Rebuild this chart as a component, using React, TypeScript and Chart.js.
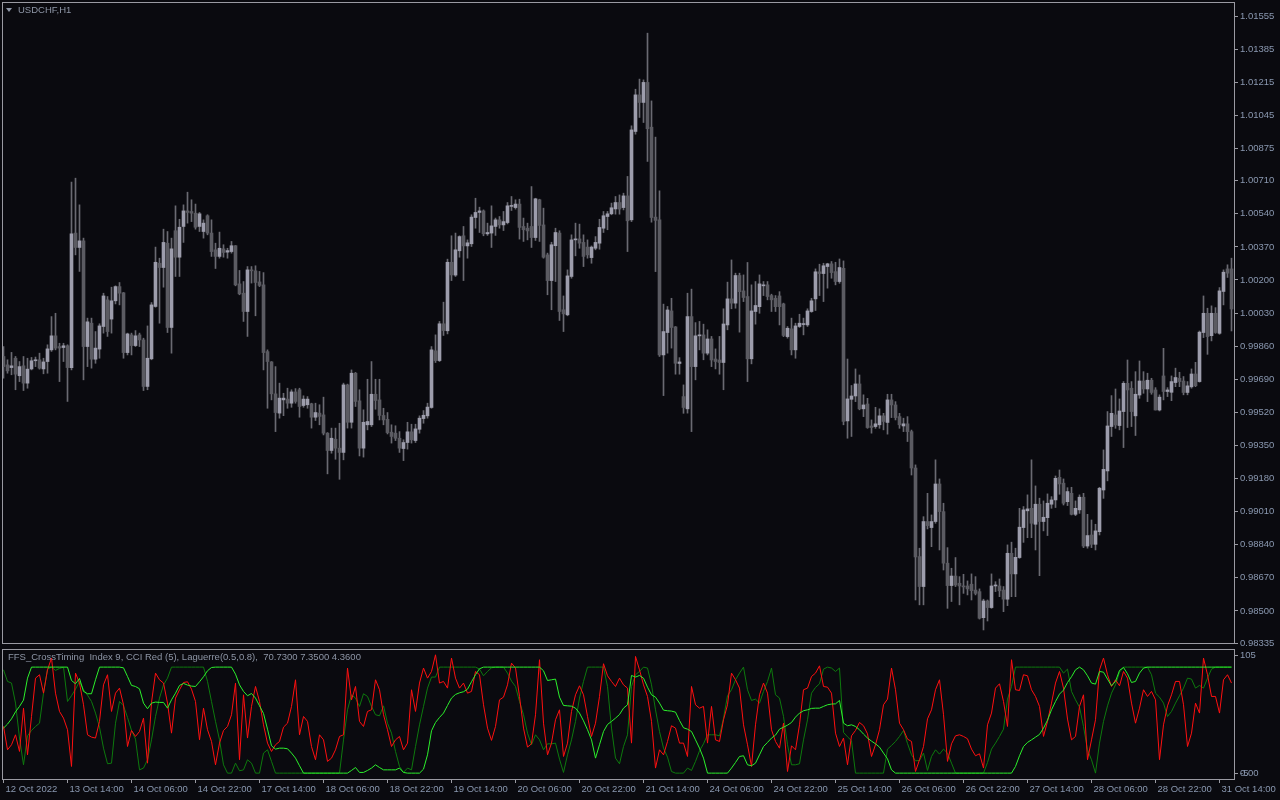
import React, { useEffect, useRef } from 'react';
import { Chart, registerables } from 'chart.js';

Chart.register(...registerables);

const symbolTitle = 'USDCHF,H1';
const indicatorTitle = 'FFS_CrossTiming  Index 9, CCI Red (5), Laguerre(0.5,0.8),  70.7300 7.3500 4.3600';

const timeLabels = ['12 Oct 2022', '13 Oct 14:00', '14 Oct 06:00', '14 Oct 22:00', '17 Oct 14:00', '18 Oct 06:00', '18 Oct 22:00', '19 Oct 14:00', '20 Oct 06:00', '20 Oct 22:00', '21 Oct 14:00', '24 Oct 06:00', '24 Oct 22:00', '25 Oct 14:00', '26 Oct 06:00', '26 Oct 22:00', '27 Oct 14:00', '28 Oct 06:00', '28 Oct 22:00', '31 Oct 14:00'];
const timeLabelBars = [0, 16, 32, 48, 64, 80, 96, 112, 128, 144, 160, 176, 192, 208, 224, 240, 256, 272, 288, 304];

const priceTickLabels = ['1.01555', '1.01385', '1.01215', '1.01045', '1.00875', '1.00710', '1.00540', '1.00370', '1.00200', '1.00030', '0.99860', '0.99690', '0.99520', '0.99350', '0.99180', '0.99010', '0.98840', '0.98670', '0.98500', '0.98335'];
const priceMin = 0.98335;
const priceMax = 1.01623;

const indicatorMin = -5;
const indicatorMax = 105;
const indicatorTickValues = [0, 0, 100.3];
const indicatorTickLabels = ['0.00', '-5', '105'];

const opens = [
  0.99807, 0.99764, 0.99750, 0.99798, 0.99708, 0.99759, 0.99670, 0.99743, 0.99785, 0.99790,
  0.99743, 0.99781, 0.99841, 0.99913, 0.99858, 0.99853, 0.99862, 0.99750, 1.00441, 1.00367,
  1.00401, 0.99858, 0.99978, 0.99793, 0.99845, 0.99961, 1.00098, 0.99999, 1.00093, 1.00166,
  1.00134, 0.99827, 0.99918, 0.99863, 0.99918, 0.99892, 0.99653, 0.99795, 1.00064, 1.00286,
  1.00264, 1.00389, 0.99956, 1.00453, 1.00317, 1.00475, 1.00555, 1.00552, 1.00543, 1.00475,
  1.00449, 1.00530, 1.00441, 1.00355, 1.00321, 1.00360, 1.00343, 1.00346, 1.00376, 1.00180,
  1.00132, 1.00038, 1.00252, 1.00247, 1.00190, 1.00175, 0.99832, 0.99779, 0.99615, 0.99516,
  0.99584, 0.99588, 0.99567, 0.99625, 0.99636, 0.99555, 0.99559, 0.99564, 0.99495, 0.99516,
  0.99507, 0.99413, 0.99324, 0.99382, 0.99336, 0.99314, 0.99661, 0.99469, 0.99721, 0.99579,
  0.99336, 0.99456, 0.99456, 0.99613, 0.99584, 0.99504, 0.99484, 0.99418, 0.99413, 0.99387,
  0.99334, 0.99365, 0.99420, 0.99375, 0.99433, 0.99488, 0.99502, 0.99545, 0.99836, 0.99786,
  0.99975, 0.99939, 1.00291, 1.00225, 1.00350, 1.00427, 1.00375, 1.00386, 1.00521, 1.00547,
  1.00555, 1.00437, 1.00441, 1.00475, 1.00509, 1.00483, 1.00495, 1.00578, 1.00572, 1.00590,
  1.00475, 1.00466, 1.00475, 1.00418, 1.00612, 1.00483, 1.00329, 1.00197, 1.00376, 1.00441,
  1.00047, 1.00021, 1.00218, 1.00406, 1.00411, 1.00393, 1.00369, 1.00315, 1.00363, 1.00389,
  1.00466, 1.00526, 1.00540, 1.00565, 1.00598, 1.00572, 1.00632, 1.00509, 1.00963, 1.01151,
  1.01112, 1.01215, 1.00985, 1.00523, 1.00509, 0.99815, 0.99930, 1.00041, 0.99959, 0.99771,
  0.99601, 0.99538, 1.00012, 0.99755, 0.99913, 0.99918, 0.99824, 0.99897, 0.99794, 0.99789,
  0.99776, 0.99969, 1.00103, 1.00081, 1.00223, 1.00144, 1.00115, 0.99795, 1.00038, 1.00063,
  1.00170, 1.00175, 1.00120, 1.00106, 1.00118, 1.00077, 0.99909, 0.99949, 0.99841, 0.99961,
  0.99971, 0.99969, 1.00038, 1.00103, 1.00242, 1.00233, 1.00269, 1.00283, 1.00243, 1.00192,
  1.00260, 0.99476, 0.99587, 0.99604, 0.99666, 0.99538, 0.99563, 0.99450, 0.99447, 0.99456,
  0.99502, 0.99468, 0.99584, 0.99558, 0.99498, 0.99450, 0.99461, 0.99421, 0.99234, 0.98779,
  0.98625, 0.98959, 0.98928, 0.98959, 0.99152, 0.99010, 0.98745, 0.98630, 0.98679, 0.98642,
  0.98628, 0.98628, 0.98637, 0.98607, 0.98599, 0.98465, 0.98551, 0.98517, 0.98628, 0.98628,
  0.98607, 0.98560, 0.98796, 0.98690, 0.98774, 0.98928, 0.99014, 0.99027, 0.98945, 0.99048,
  0.98959, 0.98979, 0.99048, 0.99070, 0.99186, 0.99156, 0.99061, 0.99104, 0.98996, 0.99019,
  0.99084, 0.98833, 0.98890, 0.98842, 0.98907, 0.99121, 0.99219, 0.99447, 0.99507, 0.99452,
  0.99524, 0.99669, 0.99644, 0.99502, 0.99609, 0.99681, 0.99640, 0.99685, 0.99635, 0.99532,
  0.99707, 0.99627, 0.99623, 0.99673, 0.99695, 0.99681, 0.99622, 0.99651, 0.99717, 0.99678,
  0.99930, 1.00029, 0.99914, 1.00029, 0.99926, 1.00141, 1.00257, 1.00257,
];

const highs = [
  0.99858, 0.99790, 0.99828, 0.99807, 0.99781, 0.99807, 0.99798, 0.99802, 0.99804, 0.99824,
  0.99798, 0.99867, 1.00012, 1.00029, 0.99875, 0.99875, 0.99867, 1.00703, 1.00723, 1.00586,
  1.00415, 1.00004, 1.00004, 0.99935, 0.99975, 1.00132, 1.00115, 1.00163, 1.00170, 1.00187,
  1.00136, 0.99927, 0.99927, 0.99940, 0.99927, 0.99901, 0.99964, 1.00084, 1.00369, 1.00312,
  1.00461, 1.00449, 1.00415, 1.00581, 1.00512, 1.00586, 1.00651, 1.00612, 1.00590, 1.00547,
  1.00509, 1.00535, 1.00509, 1.00389, 1.00446, 1.00381, 1.00363, 1.00398, 1.00377, 1.00249,
  1.00192, 1.00269, 1.00269, 1.00273, 1.00244, 1.00238, 0.99841, 0.99781, 0.99755, 0.99670,
  0.99618, 0.99644, 0.99636, 0.99642, 0.99644, 0.99605, 0.99601, 0.99567, 0.99567, 0.99559,
  0.99598, 0.99416, 0.99439, 0.99439, 0.99464, 0.99670, 0.99665, 0.99738, 0.99725, 0.99636,
  0.99533, 0.99690, 0.99781, 0.99690, 0.99690, 0.99541, 0.99519, 0.99456, 0.99451, 0.99421,
  0.99379, 0.99469, 0.99459, 0.99459, 0.99502, 0.99529, 0.99567, 0.99858, 0.99918, 0.99987,
  1.00086, 1.00307, 1.00427, 1.00441, 1.00427, 1.00475, 1.00406, 1.00535, 1.00620, 1.00574,
  1.00560, 1.00492, 1.00581, 1.00518, 1.00526, 1.00552, 1.00598, 1.00629, 1.00612, 1.00615,
  1.00518, 1.00492, 1.00680, 1.00620, 1.00615, 1.00569, 1.00338, 1.00394, 1.00466, 1.00453,
  1.00118, 1.00252, 1.00432, 1.00492, 1.00487, 1.00432, 1.00406, 1.00375, 1.00423, 1.00512,
  1.00552, 1.00552, 1.00595, 1.00629, 1.00637, 1.00646, 1.00732, 1.00992, 1.01180, 1.01232,
  1.01228, 1.01468, 1.01120, 1.00934, 1.00658, 1.00076, 1.00064, 1.00106, 0.99961, 0.99801,
  0.99661, 1.00132, 1.00153, 0.99981, 0.99987, 0.99973, 0.99944, 0.99910, 0.99846, 0.99910,
  1.00052, 1.00189, 1.00303, 1.00235, 1.00235, 1.00226, 1.00290, 1.00175, 1.00192, 1.00226,
  1.00192, 1.00192, 1.00127, 1.00120, 1.00140, 1.00081, 0.99961, 1.00004, 0.99978, 1.00024,
  1.00004, 1.00052, 1.00106, 1.00257, 1.00281, 1.00286, 1.00286, 1.00295, 1.00291, 1.00308,
  1.00298, 0.99794, 0.99658, 0.99743, 0.99712, 0.99610, 0.99592, 0.99481, 0.99546, 0.99538,
  0.99515, 0.99613, 0.99613, 0.99575, 0.99515, 0.99490, 0.99498, 0.99429, 0.99250, 0.98822,
  0.98984, 0.99104, 0.98993, 0.99276, 0.99178, 0.99053, 0.98825, 0.98719, 0.98774, 0.98676,
  0.98688, 0.98654, 0.98690, 0.98676, 0.98613, 0.98560, 0.98556, 0.98690, 0.98650, 0.98664,
  0.98625, 0.98839, 0.98853, 0.98822, 0.99027, 0.99036, 0.99096, 0.99276, 0.99142, 0.99079,
  0.99065, 0.99101, 0.99087, 0.99193, 0.99224, 0.99178, 0.99133, 0.99135, 0.99065, 0.99096,
  0.99104, 0.98996, 0.98967, 0.98945, 0.99135, 0.99327, 0.99524, 0.99606, 0.99640, 0.99589,
  0.99678, 0.99789, 0.99678, 0.99729, 0.99784, 0.99729, 0.99721, 0.99695, 0.99647, 0.99610,
  0.99849, 0.99647, 0.99707, 0.99747, 0.99726, 0.99704, 0.99678, 0.99743, 0.99777, 0.99938,
  1.00118, 1.00055, 1.00067, 1.00058, 1.00161, 1.00252, 1.00278, 1.00312,
];

const lows = [
  0.99695, 0.99721, 0.99713, 0.99636, 0.99678, 0.99632, 0.99644, 0.99738, 0.99755, 0.99742,
  0.99718, 0.99721, 0.99833, 0.99841, 0.99678, 0.99781, 0.99576, 0.99738, 1.00329, 1.00244,
  0.99687, 0.99755, 0.99747, 0.99772, 0.99798, 0.99927, 0.99910, 0.99927, 1.00077, 1.00072,
  0.99798, 0.99815, 0.99815, 0.99858, 0.99858, 0.99632, 0.99636, 0.99790, 1.00060, 0.99978,
  1.00163, 0.99930, 0.99824, 1.00218, 1.00218, 1.00393, 1.00492, 1.00500, 1.00461, 1.00449,
  1.00415, 1.00432, 1.00321, 1.00259, 1.00312, 1.00317, 1.00312, 1.00338, 1.00170, 1.00124,
  0.99987, 0.99910, 1.00184, 1.00016, 1.00166, 0.99738, 0.99541, 0.99584, 0.99421, 0.99490,
  0.99503, 0.99541, 0.99546, 0.99567, 0.99495, 0.99546, 0.99541, 0.99439, 0.99478, 0.99456,
  0.99404, 0.99204, 0.99310, 0.99279, 0.99176, 0.99276, 0.99439, 0.99439, 0.99550, 0.99296,
  0.99290, 0.99430, 0.99447, 0.99536, 0.99481, 0.99456, 0.99409, 0.99362, 0.99375, 0.99314,
  0.99272, 0.99331, 0.99362, 0.99365, 0.99413, 0.99464, 0.99490, 0.99541, 0.99776, 0.99781,
  0.99915, 0.99923, 1.00197, 1.00218, 1.00317, 1.00197, 1.00312, 1.00372, 1.00466, 1.00444,
  1.00427, 1.00429, 1.00367, 1.00429, 1.00466, 1.00454, 1.00488, 1.00557, 1.00564, 1.00410,
  1.00398, 1.00406, 1.00367, 1.00403, 1.00398, 1.00312, 1.00124, 1.00047, 1.00192, 0.99992,
  0.99935, 1.00016, 1.00209, 1.00324, 1.00363, 1.00269, 1.00312, 1.00286, 1.00355, 1.00358,
  1.00444, 1.00458, 1.00535, 1.00538, 1.00538, 1.00560, 1.00346, 1.00500, 1.00949, 1.01035,
  1.01009, 1.00809, 1.00497, 1.00243, 0.99807, 0.99606, 0.99824, 0.99850, 0.99716, 0.99716,
  0.99515, 0.99516, 0.99421, 0.99687, 0.99841, 0.99790, 0.99815, 0.99755, 0.99743, 0.99716,
  0.99636, 0.99944, 1.00052, 1.00055, 0.99932, 1.00089, 0.99678, 0.99769, 0.99973, 1.00029,
  1.00120, 1.00098, 1.00038, 1.00038, 0.99969, 0.99909, 0.99901, 0.99815, 0.99798, 0.99956,
  0.99918, 0.99961, 1.00034, 1.00043, 1.00120, 1.00089, 1.00158, 1.00209, 1.00175, 1.00183,
  0.99456, 0.99387, 0.99396, 0.99575, 0.99533, 0.99498, 0.99438, 0.99413, 0.99438, 0.99438,
  0.99430, 0.99408, 0.99493, 0.99481, 0.99438, 0.99421, 0.99370, 0.99198, 0.98556, 0.98531,
  0.98531, 0.98921, 0.98830, 0.98950, 0.98813, 0.98710, 0.98513, 0.98548, 0.98625, 0.98531,
  0.98590, 0.98582, 0.98556, 0.98582, 0.98458, 0.98402, 0.98448, 0.98513, 0.98599, 0.98573,
  0.98496, 0.98527, 0.98573, 0.98573, 0.98770, 0.98852, 0.98876, 0.98876, 0.98813, 0.98681,
  0.98911, 0.98887, 0.99027, 0.99031, 0.99099, 0.99044, 0.99041, 0.98993, 0.98989, 0.99001,
  0.98825, 0.98822, 0.98825, 0.98813, 0.98890, 0.99078, 0.99168, 0.99396, 0.99438, 0.99430,
  0.99339, 0.99442, 0.99447, 0.99401, 0.99592, 0.99618, 0.99575, 0.99613, 0.99532, 0.99527,
  0.99584, 0.99601, 0.99580, 0.99652, 0.99652, 0.99610, 0.99610, 0.99644, 0.99652, 0.99675,
  0.99904, 0.99818, 0.99887, 0.99926, 0.99921, 1.00072, 1.00213, 0.99938,
];

const closes = [
  0.99755, 0.99733, 0.99759, 0.99716, 0.99755, 0.99670, 0.99742, 0.99785, 0.99790, 0.99747,
  0.99779, 0.99846, 0.99913, 0.99850, 0.99850, 0.99862, 0.99750, 1.00437, 1.00367, 1.00401,
  0.99858, 0.99985, 0.99793, 0.99850, 0.99964, 1.00118, 0.99935, 1.00093, 1.00166, 1.00132,
  0.99827, 0.99923, 0.99863, 0.99913, 0.99892, 0.99653, 0.99798, 1.00072, 1.00291, 1.00264,
  1.00393, 0.99956, 1.00360, 1.00317, 1.00471, 1.00555, 1.00547, 1.00543, 1.00471, 1.00540,
  1.00492, 1.00441, 1.00346, 1.00321, 1.00363, 1.00341, 1.00351, 1.00376, 1.00175, 1.00129,
  1.00038, 1.00252, 1.00247, 1.00187, 1.00172, 0.99827, 0.99781, 0.99615, 0.99519, 0.99593,
  0.99593, 0.99567, 0.99625, 0.99576, 0.99550, 0.99588, 0.99588, 0.99495, 0.99519, 0.99499,
  0.99413, 0.99324, 0.99387, 0.99336, 0.99314, 0.99661, 0.99469, 0.99721, 0.99576, 0.99336,
  0.99469, 0.99473, 0.99613, 0.99581, 0.99504, 0.99481, 0.99416, 0.99396, 0.99387, 0.99336,
  0.99365, 0.99420, 0.99379, 0.99435, 0.99490, 0.99505, 0.99547, 0.99841, 0.99786, 0.99975,
  0.99940, 1.00291, 1.00226, 1.00355, 1.00423, 1.00375, 1.00391, 1.00523, 1.00547, 1.00555,
  1.00437, 1.00444, 1.00478, 1.00509, 1.00483, 1.00500, 1.00581, 1.00581, 1.00590, 1.00470,
  1.00458, 1.00452, 1.00418, 1.00617, 1.00480, 1.00317, 1.00197, 1.00381, 1.00444, 1.00038,
  1.00026, 1.00221, 1.00406, 1.00411, 1.00389, 1.00321, 1.00329, 1.00369, 1.00393, 1.00470,
  1.00530, 1.00540, 1.00571, 1.00598, 1.00564, 1.00632, 1.00504, 1.00971, 1.01151, 1.01112,
  1.01215, 1.00977, 1.00521, 1.00506, 0.99815, 0.99935, 1.00046, 0.99956, 0.99772, 0.99779,
  0.99545, 1.00012, 0.99755, 0.99913, 0.99918, 0.99824, 0.99897, 0.99789, 0.99781, 0.99776,
  0.99974, 1.00103, 1.00081, 1.00223, 1.00140, 1.00110, 0.99795, 1.00041, 1.00069, 1.00180,
  1.00175, 1.00115, 1.00098, 1.00063, 1.00063, 0.99915, 0.99952, 0.99841, 0.99964, 0.99978,
  0.99975, 1.00041, 1.00093, 1.00242, 1.00233, 1.00273, 1.00283, 1.00238, 1.00192, 1.00264,
  0.99473, 0.99589, 0.99604, 0.99666, 0.99538, 0.99558, 0.99442, 0.99442, 0.99461, 0.99502,
  0.99473, 0.99584, 0.99558, 0.99493, 0.99456, 0.99461, 0.99421, 0.99234, 0.98777, 0.98625,
  0.98959, 0.98938, 0.98959, 0.99152, 0.99010, 0.98745, 0.98630, 0.98679, 0.98633, 0.98628,
  0.98623, 0.98613, 0.98604, 0.98590, 0.98462, 0.98551, 0.98517, 0.98628, 0.98633, 0.98603,
  0.98560, 0.98796, 0.98690, 0.98775, 0.98930, 0.99019, 0.99024, 0.98950, 0.99048, 0.98959,
  0.98981, 0.99053, 0.99070, 0.99181, 0.99152, 0.99053, 0.99113, 0.98996, 0.99027, 0.99084,
  0.98833, 0.98887, 0.98842, 0.98911, 0.99130, 0.99227, 0.99450, 0.99515, 0.99455, 0.99527,
  0.99669, 0.99635, 0.99524, 0.99613, 0.99681, 0.99640, 0.99685, 0.99622, 0.99532, 0.99598,
  0.99627, 0.99635, 0.99678, 0.99699, 0.99678, 0.99622, 0.99656, 0.99717, 0.99657, 0.99932,
  1.00029, 0.99909, 1.00029, 0.99930, 1.00144, 1.00240, 1.00235, 1.00051,
];

const laguerreLime = [
  38.4, 41.8, 46.3, 52.3, 56.9, 62.3, 81.0, 90.4, 90.4, 90.4,
  90.4, 90.4, 90.4, 90.4, 90.4, 90.4, 90.4, 79.0, 76.2, 80.7,
  69.7, 67.7, 67.7, 79.6, 90.4, 90.4, 90.4, 90.4, 90.4, 90.4,
  89.8, 82.4, 74.8, 73.9, 71.9, 59.7, 54.9, 59.7, 60.6, 60.3,
  60.3, 55.4, 62.5, 68.2, 74.8, 76.5, 75.1, 74.2, 73.9, 77.9,
  82.2, 87.3, 90.1, 90.4, 90.4, 90.4, 90.4, 90.4, 84.4, 75.3,
  69.7, 66.0, 67.9, 64.0, 57.4, 50.9, 37.5, 23.3, 20.5, 21.3,
  21.3, 20.8, 17.1, 12.8, 6.3, 0, 0, 0, 0, 0,
  0, 0, 0, 0, 0, 0, 0, 2.3, 4.8, 0.6,
  0.6, 2.3, 4.3, 7.1, 4.8, 2.8, 2.8, 2.8, 2.8, 4.3,
  0.6, 0, 0, 0, 0, 3.4, 15.6, 36.1, 43.2, 47.5,
  51.2, 57.7, 64.0, 67.1, 68.5, 69.4, 71.6, 77.9, 83.9, 89.0,
  90.4, 90.4, 90.4, 90.4, 90.4, 90.4, 90.4, 90.4, 90.4, 90.4,
  90.4, 90.4, 90.4, 90.4, 90.4, 87.3, 79.0, 79.6, 80.2, 64.8,
  57.7, 57.4, 57.1, 55.4, 51.2, 44.6, 37.0, 28.4, 12.8, 24.2,
  35.5, 41.5, 44.1, 46.9, 50.0, 55.4, 58.3, 83.3, 81.9, 83.3,
  81.0, 73.3, 66.8, 64.8, 59.7, 53.7, 53.2, 52.9, 52.0, 44.9,
  38.7, 37.5, 35.5, 28.4, 21.3, 12.8, 0, 0, 0, 0,
  0, 0, 4.3, 9.1, 14.2, 14.8, 7.1, 6.3, 8.5, 15.6,
  22.7, 26.2, 29.9, 32.4, 37.5, 39.2, 40.9, 43.2, 47.8, 51.2,
  53.2, 54.0, 55.2, 55.4, 55.4, 56.9, 58.3, 58.9, 59.1, 62.0,
  42.6, 40.4, 41.2, 39.8, 37.0, 33.3, 29.9, 27.3, 25.0, 22.2,
  17.1, 12.2, 2.8, 0, 0, 0, 0, 0, 0, 0,
  0, 0, 0, 0, 0, 0, 0, 0, 0, 0,
  0, 0, 0, 0, 0, 0, 0, 0, 0, 0,
  0, 0, 0, 5.7, 14.8, 22.7, 26.2, 28.4, 30.7, 33.0,
  38.4, 45.2, 54.0, 61.1, 67.4, 70.8, 77.3, 82.2, 88.1, 90.4,
  88.1, 83.0, 76.8, 75.9, 86.7, 86.1, 80.2, 74.5, 78.2, 87.6,
  90.1, 84.7, 77.3, 78.2, 85.3, 89.6, 90.4, 90.4, 90.4, 90.4,
  90.4, 90.4, 90.4, 90.4, 90.4, 90.4, 90.4, 90.4, 90.4, 90.4,
  90.4, 90.4, 90.4, 90.4, 90.4, 90.4, 90.4, 90.4,
];

const timingGreen = [
  88.1, 78.2, 76.8, 59.7, 29.9, 7.1, 31.8, 36.4, 39.8, 42.6,
  68.2, 88.7, 90.4, 87.6, 89.3, 90.4, 61.1, 66.0, 71.6, 78.2,
  71.1, 66.5, 61.1, 51.2, 39.2, 21.3, 8.0, 8.5, 42.6, 61.1,
  57.4, 47.5, 36.4, 29.0, 2.8, 4.3, 11.4, 28.4, 48.3, 64.0,
  75.3, 81.0, 90.4, 90.4, 90.4, 90.4, 90.4, 90.4, 90.4, 90.4,
  90.4, 78.2, 61.1, 44.1, 28.4, 7.1, 0, 0, 8.5, 2.0,
  2.8, 11.4, 8.5, 0, 0, 17.1, 19.9, 10.0, 0, 0,
  0, 0, 0, 0, 0, 0, 0, 0, 0, 0,
  0, 0, 0, 0, 0, 28.4, 54.0, 66.8, 64.0, 56.9,
  67.7, 65.4, 56.9, 49.8, 48.9, 57.4, 42.6, 34.1, 18.5, 5.7,
  0.6, 4.3, 2.8, 22.7, 41.2, 56.9, 72.5, 81.9, 81.9, 90.4,
  90.4, 90.4, 90.4, 90.4, 90.4, 90.4, 90.4, 90.4, 90.4, 88.7,
  83.0, 86.7, 89.8, 90.4, 90.4, 90.4, 85.3, 78.5, 73.9, 61.1,
  49.8, 34.1, 24.2, 32.7, 28.4, 19.9, 25.0, 25.0, 25.6, 11.9,
  0.6, 15.6, 28.4, 44.1, 64.0, 78.2, 90.4, 90.4, 90.4, 90.4,
  90.4, 73.9, 38.4, 12.8, 8.0, 22.7, 32.7, 73.9, 83.9, 86.7,
  90.4, 89.6, 75.3, 54.0, 35.5, 21.3, 13.6, 1.4, 0, 0,
  0, 4.3, 2.3, 10.0, 19.0, 25.0, 32.7, 32.7, 32.7, 31.8,
  46.9, 66.0, 71.1, 79.6, 85.3, 90.4, 71.1, 62.0, 63.1, 59.7,
  69.7, 78.2, 89.6, 66.8, 64.0, 48.3, 24.2, 7.1, 7.1, 8.0,
  28.4, 45.5, 68.2, 73.1, 76.2, 88.7, 90.4, 89.6, 86.7, 89.6,
  34.7, 31.0, 27.6, 0, 0, 0, 0, 0, 0, 0,
  0, 20.5, 23.6, 27.0, 31.3, 36.4, 25.3, 15.6, 10.5, 10.8,
  17.1, 2.3, 14.2, 19.9, 16.2, 20.5, 17.1, 8.5, 0, 0,
  0, 0, 0, 0, 0, 0, 9.1, 20.5, 25.6, 31.3,
  37.5, 63.1, 73.9, 90.4, 90.4, 90.4, 90.4, 90.4, 90.4, 90.4,
  90.4, 90.4, 90.4, 90.4, 90.4, 85.3, 88.7, 69.7, 62.5, 56.3,
  39.8, 19.9, 11.4, 0, 25.6, 44.1, 57.4, 68.2, 75.3, 86.1,
  90.4, 90.4, 90.4, 90.4, 90.4, 90.4, 90.4, 83.9, 68.2, 64.8,
  59.7, 48.3, 52.6, 59.7, 66.0, 72.5, 81.0, 80.2, 72.5, 74.8,
  72.5, 81.0, 88.7, 90.4, 90.4, 90.4, 90.4, 90.4,
];

const cciRed = [
  39.8, 19.9, 24.2, 32.7, 18.5, 55.4, 15.6, 48.3, 81.0, 83.9,
  68.2, 88.1, 98.1, 68.2, 52.6, 46.9, 37.0, 5.7, 85.3, 76.8,
  58.3, 32.7, 30.7, 29.9, 44.1, 75.3, 83.9, 52.6, 68.2, 72.5,
  58.3, 22.7, 36.4, 31.3, 35.5, 46.9, 8.5, 60.3, 85.3, 79.6,
  76.8, 59.7, 34.1, 64.0, 71.1, 77.3, 77.9, 71.6, 61.1, 28.4,
  55.4, 37.0, 27.0, 7.1, 25.6, 36.4, 39.8, 49.8, 76.8, 11.4,
  66.8, 29.9, 56.9, 73.9, 61.1, 41.2, 25.6, 18.5, 24.2, 27.0,
  39.2, 42.6, 56.9, 79.6, 32.7, 48.3, 44.1, 22.7, 11.4, 32.7,
  28.4, 10.0, 12.8, 19.9, 31.3, 32.7, 89.6, 62.5, 73.9, 44.1,
  39.8, 52.6, 54.0, 79.6, 71.1, 49.8, 37.0, 22.7, 28.4, 31.3,
  19.9, 25.6, 71.1, 52.6, 76.8, 89.6, 81.0, 86.7, 100.9, 76.8,
  78.2, 72.5, 98.1, 81.0, 72.5, 76.8, 68.2, 69.7, 86.7, 83.9,
  58.3, 38.4, 27.9, 39.8, 62.5, 64.8, 75.3, 93.8, 89.6, 65.4,
  38.4, 22.2, 25.0, 49.8, 96.7, 42.6, 15.6, 25.6, 45.5, 54.0,
  14.2, 25.6, 52.6, 66.8, 74.5, 66.8, 48.3, 31.3, 42.6, 65.4,
  93.3, 83.0, 78.2, 73.9, 81.0, 75.3, 72.5, 25.6, 99.5, 88.1,
  75.3, 65.4, 44.1, 4.3, 19.9, 15.6, 27.0, 40.4, 38.4, 25.6,
  25.6, 14.2, 73.9, 58.3, 55.4, 56.9, 25.6, 56.9, 28.4, 27.0,
  45.5, 58.3, 85.3, 79.6, 72.5, 41.2, 24.2, 5.7, 41.2, 66.8,
  76.8, 68.2, 37.0, 27.0, 21.3, 42.6, 1.4, 23.3, 19.9, 41.2,
  71.1, 72.5, 82.4, 85.3, 91.5, 73.9, 73.3, 68.2, 34.1, 22.7,
  29.9, 7.1, 31.8, 36.4, 43.2, 40.4, 33.5, 14.2, 24.2, 37.0,
  58.3, 63.1, 89.6, 71.1, 42.6, 37.0, 29.0, 27.0, 1.4, 11.4,
  22.7, 46.3, 54.0, 71.1, 79.6, 49.8, 10.0, 25.0, 31.8, 32.7,
  31.3, 29.3, 20.5, 14.8, 16.5, 4.3, 41.2, 51.2, 72.5, 76.2,
  61.1, 39.8, 96.7, 71.1, 70.5, 83.9, 83.0, 71.1, 65.4, 56.9,
  31.3, 44.1, 59.7, 76.8, 86.7, 72.5, 46.1, 28.4, 31.3, 56.9,
  66.8, 11.4, 28.4, 45.5, 88.1, 98.1, 83.9, 73.9, 79.6, 74.5,
  86.7, 81.0, 59.7, 42.6, 55.4, 71.1, 65.4, 69.7, 62.5, 11.4,
  41.2, 57.4, 66.8, 78.2, 78.2, 58.3, 22.7, 34.1, 59.7, 51.2,
  98.1, 83.9, 65.4, 65.4, 51.2, 79.6, 83.9, 76.8,
];

const BG = '#0a0a0f';
const FRAME = '#9a9aa2';
const AXIS_TEXT = '#8a98b0';
const TITLE_TEXT = '#8e96a6';
const BULL_BODY = '#9d9dac';
const BEAR_BODY = '#5b5b62';
const WICK = '#6a6a72';
const RED = '#ff1010';
const DARK_GREEN = '#0e7a0e';
const LIME = '#2cf02c';
const FONT_FAMILY = "'Liberation Sans', Arial, sans-serif";
const FONT_SIZE = 9.5;

const X_MIN = -0.125;
const X_MAX = 307.625;

const framePlugin = {
  id: 'panelFrame',
  afterDraw(chart: any) {
    const { ctx, chartArea } = chart;
    const { left, top, right, bottom } = chartArea;
    ctx.save();
    ctx.strokeStyle = FRAME;
    ctx.lineWidth = 1;
    ctx.strokeRect(Math.round(left) - 0.5, Math.round(top) - 0.5, Math.round(right - left) + 1, Math.round(bottom - top) + 1);
    ctx.restore();
  },
};

const isBull = (i: number) => closes[i] >= opens[i];

function PriceChart() {
  const ref = useRef<HTMLCanvasElement | null>(null);
  useEffect(() => {
    if (!ref.current) return;
    const idx = opens.map((_, i) => i);
    const chart = new Chart(ref.current, {
      type: 'bar',
      data: {
        datasets: [
          {
            label: 'body',
            data: idx.map((i) => ({ x: i, y: [Math.min(opens[i], closes[i]), Math.max(opens[i], closes[i])] })) as any,
            backgroundColor: (c: any) => (isBull(c.dataIndex) ? BULL_BODY : BEAR_BODY),
            barThickness: 3,
            minBarLength: 1,
            grouped: false,
            borderWidth: 0,
          },
          {
            label: 'wick',
            data: idx.map((i) => ({ x: i, y: [lows[i], highs[i]] })) as any,
            backgroundColor: WICK,
            barThickness: 1,
            grouped: false,
            borderWidth: 0,
          },
        ],
      },
      options: {
        animation: false,
        responsive: false,
        maintainAspectRatio: false,
        events: [],
        layout: { padding: { left: 3, top: 3, right: 0, bottom: 157 } },
        plugins: { legend: { display: false }, tooltip: { enabled: false } },
        scales: {
          x: { type: 'linear', offset: false, min: X_MIN, max: X_MAX, display: false },
          y: {
            type: 'linear',
            position: 'right',
            min: priceMin,
            max: priceMax,
            afterBuildTicks: (s: any) => {
              s.ticks = priceTickLabels.map((l) => ({ value: parseFloat(l) }));
            },
            afterFit: (s: any) => {
              s.width = 46;
              s.paddingTop = 0;
              s.paddingBottom = 0;
            },
            ticks: {
              autoSkip: false,
              padding: 2,
              color: AXIS_TEXT,
              font: { family: FONT_FAMILY, size: FONT_SIZE },
              callback: (_v: any, i: number) => priceTickLabels[i],
            },
            grid: { drawOnChartArea: false, drawTicks: true, tickLength: 4, color: FRAME },
            border: { display: false },
          },
        },
      } as any,
      plugins: [framePlugin],
    });
    return () => chart.destroy();
  }, []);
  return <canvas ref={ref} width={1280} height={800} style={{ position: 'absolute', left: 0, top: 0, width: 1280, height: 800 }} />;
}

function IndicatorChart() {
  const ref = useRef<HTMLCanvasElement | null>(null);
  useEffect(() => {
    if (!ref.current) return;
    const toPts = (arr: number[]) => arr.map((v, i) => ({ x: i, y: v }));
    const lineBase = { borderWidth: 1, pointRadius: 0, tension: 0, fill: false };
    const chart = new Chart(ref.current, {
      type: 'line',
      data: {
        datasets: [
          { label: 'Laguerre', data: toPts(laguerreLime), borderColor: LIME, ...lineBase },
          { label: 'CCI Red', data: toPts(cciRed), borderColor: RED, ...lineBase },
          { label: 'Index', data: toPts(timingGreen), borderColor: DARK_GREEN, ...lineBase },
        ],
      },
      options: {
        animation: false,
        responsive: false,
        maintainAspectRatio: false,
        events: [],
        layout: { padding: { left: 3, top: 650, right: 0, bottom: 0 } },
        plugins: { legend: { display: false }, tooltip: { enabled: false } },
        scales: {
          x: {
            type: 'linear',
            offset: false,
            min: X_MIN,
            max: X_MAX,
            afterBuildTicks: (s: any) => {
              s.ticks = timeLabelBars.map((b) => ({ value: b }));
            },
            afterFit: (s: any) => {
              s.height = 21;
              s.paddingLeft = 0;
              s.paddingRight = 0;
            },
            ticks: {
              autoSkip: false,
              maxRotation: 0,
              minRotation: 0,
              align: 'start',
              labelOffset: 2,
              padding: 1,
              color: AXIS_TEXT,
              font: { family: FONT_FAMILY, size: FONT_SIZE },
              callback: (_v: any, i: number) => timeLabels[i],
            },
            grid: { drawOnChartArea: false, drawTicks: true, tickLength: 4, color: FRAME },
            border: { display: false },
          },
          y: {
            type: 'linear',
            position: 'right',
            min: indicatorMin,
            max: indicatorMax,
            afterBuildTicks: (s: any) => {
              s.ticks = indicatorTickValues.map((v) => ({ value: v }));
            },
            afterFit: (s: any) => {
              s.width = 46;
              s.paddingTop = 0;
              s.paddingBottom = 0;
            },
            ticks: {
              autoSkip: false,
              padding: 2,
              color: AXIS_TEXT,
              font: { family: FONT_FAMILY, size: FONT_SIZE },
              callback: (_v: any, i: number) => indicatorTickLabels[i],
            },
            grid: { drawOnChartArea: false, drawTicks: true, tickLength: 4, color: FRAME },
            border: { display: false },
          },
        },
      } as any,
      plugins: [framePlugin],
    });
    return () => chart.destroy();
  }, []);
  return <canvas ref={ref} width={1280} height={800} style={{ position: 'absolute', left: 0, top: 0, width: 1280, height: 800 }} />;
}

export default function App() {
  const textStyle: React.CSSProperties = {
    position: 'absolute',
    fontFamily: FONT_FAMILY,
    fontSize: FONT_SIZE,
    lineHeight: '12px',
    whiteSpace: 'pre',
    color: TITLE_TEXT,
  };
  return (
    <div style={{ position: 'fixed', left: 0, top: 0, width: 1280, height: 800, background: BG, overflow: 'hidden' }}>
      <PriceChart />
      <IndicatorChart />
      <div style={{ position: 'absolute', left: 6, top: 8, width: 0, height: 0, borderLeft: '3px solid transparent', borderRight: '3px solid transparent', borderTop: '4px solid ' + TITLE_TEXT }} />
      <div style={{ ...textStyle, left: 18, top: 4 }}>{symbolTitle}</div>
      <div style={{ ...textStyle, left: 8, top: 651 }}>{indicatorTitle}</div>
    </div>
  );
}
